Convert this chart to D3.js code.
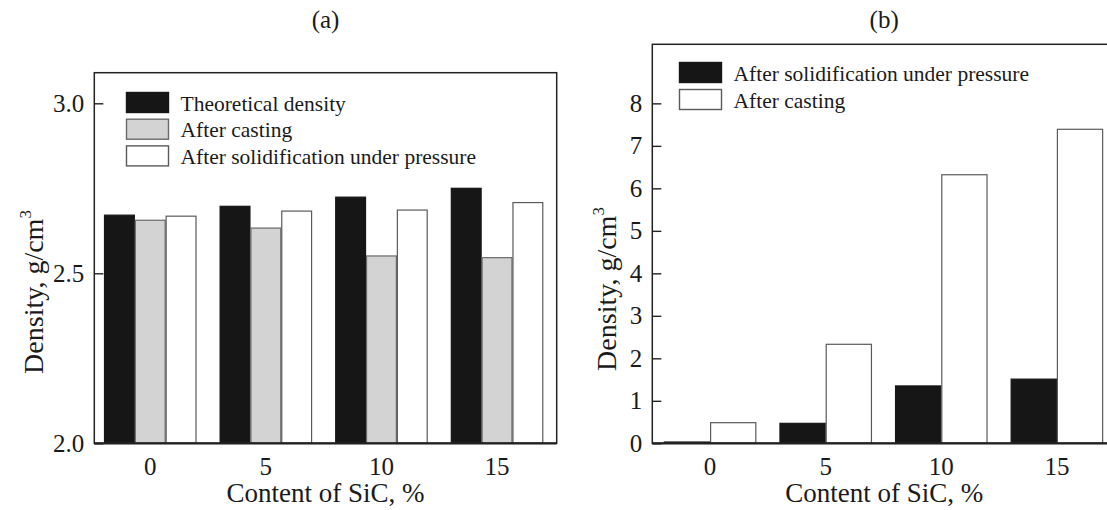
<!DOCTYPE html>
<html>
<head>
<meta charset="utf-8">
<script src="https://cdn.jsdelivr.net/npm/d3@7"></script>
<style>
  html, body { margin: 0; padding: 0; background: #fff; }
  svg text { font-family: "Liberation Serif", "Times New Roman", serif; fill: #1a1a1a; }
</style>
</head>
<body>
<div id="chart"></div>
<script>
// categories (SiC content, %)
const contents = ["0", "5", "10", "15"];

// panel (a): density, g/cm3
const theoretical = [2.671, 2.697, 2.724, 2.750];
const castingA = [2.656, 2.633, 2.551, 2.546];
const pressureA = [2.668, 2.683, 2.686, 2.708];
const ticksA = [2.0, 2.5, 3.0];

// panel (b)
const pressureB = [0.03, 0.47, 1.35, 1.51];
const castingB = [0.485, 2.33, 6.32, 7.39];
const ticksB = [0, 1, 2, 3, 4, 5, 6, 7, 8];

const seriesA = [
  { name: "Theoretical density", values: theoretical, fill: "#161616", stroke: "#161616" },
  { name: "After casting", values: castingA, fill: "#d3d3d3", stroke: "#6a6a6a" },
  { name: "After solidification under pressure", values: pressureA, fill: "#ffffff", stroke: "#5a5a5a" }
];
const seriesB = [
  { name: "After solidification under pressure", values: pressureB, fill: "#161616", stroke: "#161616" },
  { name: "After casting", values: castingB, fill: "#ffffff", stroke: "#5a5a5a" }
];

const width = 1107, height = 510;
const svg = d3.select("#chart").append("svg")
  .attr("width", width)
  .attr("height", height);

function drawPanel(cfg) {
  const g = svg.append("g");
  const x0 = d3.scaleBand()
    .domain(contents)
    .range(cfg.xRange)
    .paddingInner(0.2)
    .paddingOuter(0.1)
    .align(cfg.align);
  const x1 = d3.scaleBand()
    .domain(cfg.series.map(s => s.name))
    .range([0, x0.bandwidth()]);
  const y = d3.scaleLinear().domain(cfg.yDomain).range([cfg.bottom, cfg.top]);

  // bars
  cfg.series.forEach(s => {
    g.selectAll(null)
      .data(s.values)
      .enter()
      .append("rect")
      .attr("x", (d, i) => x0(contents[i]) + x1(s.name) + 0.5)
      .attr("y", d => y(d))
      .attr("width", x1.bandwidth() - 1)
      .attr("height", d => y(cfg.yDomain[0]) - y(d))
      .attr("fill", s.fill)
      .attr("stroke", s.stroke)
      .attr("stroke-width", 1.2);
  });

  // frame
  g.append("rect")
    .attr("x", cfg.frame[0])
    .attr("y", cfg.top)
    .attr("width", cfg.frame[1] - cfg.frame[0])
    .attr("height", cfg.bottom - cfg.top)
    .attr("fill", "none")
    .attr("stroke", "#222")
    .attr("stroke-width", 1.5);
  g.append("line")
    .attr("x1", cfg.frame[0]).attr("x2", cfg.frame[1])
    .attr("y1", cfg.bottom).attr("y2", cfg.bottom)
    .attr("stroke", "#222").attr("stroke-width", 2.2);

  // y axis, ticks pointing inward
  const yAxis = g.append("g")
    .attr("transform", `translate(${cfg.frame[0]},0)`)
    .call(d3.axisLeft(y).tickValues(cfg.yTicks).tickFormat(cfg.yFormat)
      .tickSizeInner(-9).tickSizeOuter(0).tickPadding(10));
  yAxis.select(".domain").remove();
  yAxis.selectAll(".tick line").attr("stroke", "#222").attr("stroke-width", 1.4);
  yAxis.selectAll(".tick text").attr("font-size", 25).attr("fill", "#1a1a1a");

  // x axis, labels only
  const xAxis = g.append("g")
    .attr("transform", `translate(0,${cfg.bottom})`)
    .call(d3.axisBottom(x0).tickSize(0).tickPadding(14));
  xAxis.select(".domain").remove();
  xAxis.selectAll(".tick text").attr("font-size", 25).attr("fill", "#1a1a1a");

  // titles
  const cx = (cfg.frame[0] + cfg.frame[1]) / 2;
  g.append("text")
    .attr("x", cx).attr("y", 28)
    .attr("text-anchor", "middle")
    .attr("font-size", 25)
    .text(cfg.label);
  g.append("text")
    .attr("x", cx).attr("y", 502)
    .attr("text-anchor", "middle")
    .attr("font-size", 27)
    .text("Content of SiC, %");
  const yt = g.append("text")
    .attr("transform", `translate(${cfg.yTitleX},${cfg.yTitleY}) rotate(-90)`)
    .attr("text-anchor", "middle")
    .attr("font-size", 28);
  yt.append("tspan").text("Density, g/cm");
  yt.append("tspan").attr("font-size", 17).attr("dy", -12).text("3");

  // legend
  cfg.series.forEach((s, i) => {
    const ly = cfg.legend.y + i * cfg.legend.step;
    g.append("rect")
      .attr("x", cfg.legend.x)
      .attr("y", ly)
      .attr("width", 42)
      .attr("height", 20)
      .attr("fill", s.fill)
      .attr("stroke", s.stroke)
      .attr("stroke-width", 1.4);
    g.append("text")
      .attr("x", cfg.legend.x + cfg.legend.textDx)
      .attr("y", ly + 18)
      .attr("font-size", 21.5)
      .text(s.name);
  });
}

drawPanel({
  label: "(a)",
  series: seriesA,
  xRange: [94.3, 556.7],
  frame: [94.3, 556.7],
  align: 0.42,
  top: 72.7,
  bottom: 443.3,
  yDomain: [2.0, 3.09],
  yTicks: ticksA,
  yFormat: d3.format(".1f"),
  yTitleX: 43,
  yTitleY: 292,
  legend: { x: 126.5, y: 92.5, step: 26.7, textDx: 54 }
});

drawPanel({
  label: "(b)",
  series: seriesB,
  xRange: [652.3, 1114.7],
  frame: [652.3, 1116],
  align: 0.5,
  top: 44.3,
  bottom: 443.3,
  yDomain: [0, 9.39],
  yTicks: ticksB,
  yFormat: d3.format("d"),
  yTitleX: 616,
  yTitleY: 289,
  legend: { x: 679.5, y: 62.5, step: 27, textDx: 54 }
});
</script>
</body>
</html>
